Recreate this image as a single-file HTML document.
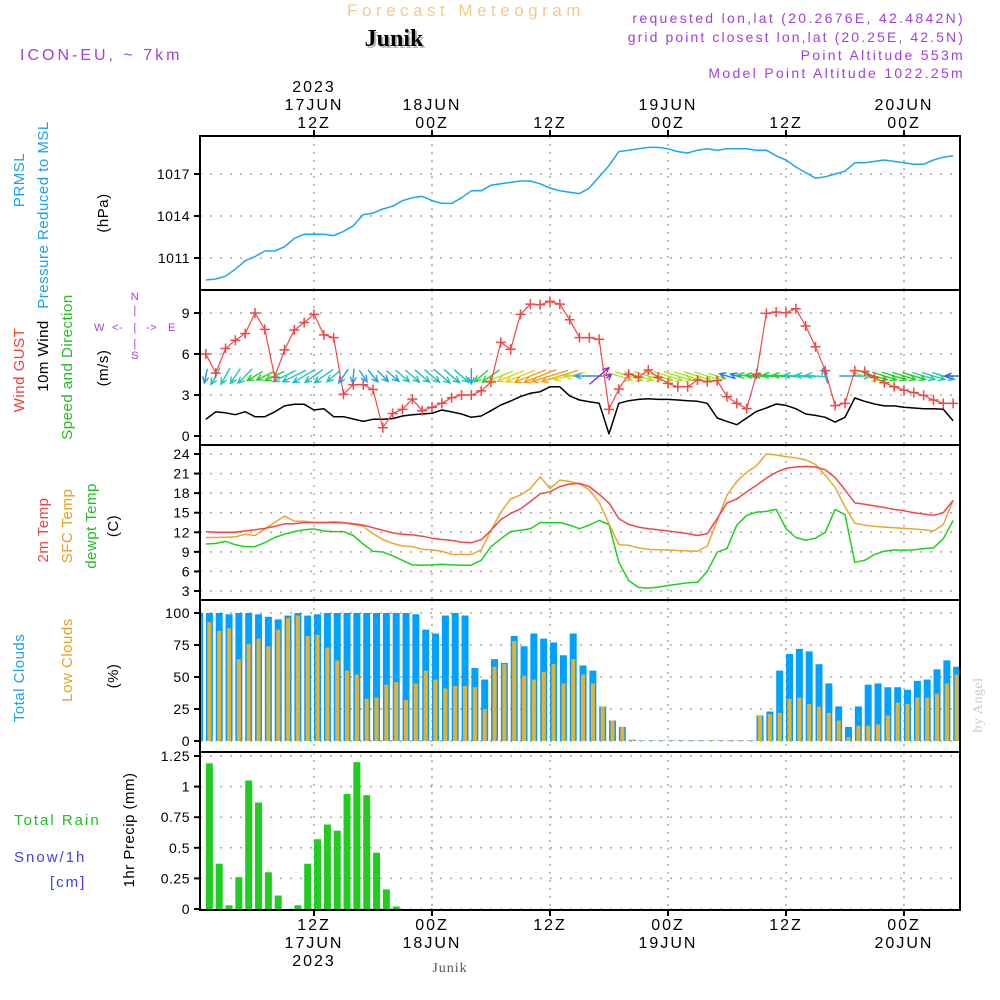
<!DOCTYPE html>
<html><head><meta charset="utf-8"><title>Forecast Meteogram Junik</title>
<style>
html,body{margin:0;padding:0;background:#fff;}
svg{display:block;font-family:"Liberation Sans",sans-serif;}
</style></head>
<body>
<svg id="chart" width="1000" height="1000" viewBox="0 0 1000 1000" xmlns="http://www.w3.org/2000/svg">
<defs><clipPath id="plotclip"><rect x="200" y="136" width="760" height="774"/></clipPath></defs>
<g>
<text x="466" y="16" text-anchor="middle" fill="#f5c890" font-size="17" letter-spacing="4.5">Forecast Meteogram</text>
<text x="396" y="48" text-anchor="middle" font-family="Liberation Serif,serif" font-weight="bold" font-size="24" fill="#bbb">Junik</text>
<text x="394" y="46" text-anchor="middle" font-family="Liberation Serif,serif" font-weight="bold" font-size="24" fill="#000">Junik</text>
<text x="20" y="60" fill="#a040e0" font-size="16" letter-spacing="3">ICON-EU, ~ 7km</text>
<text x="965" y="23" text-anchor="end" fill="#a040e0" font-size="14" letter-spacing="2.3">requested lon,lat (20.2676E, 42.4842N)</text>
<text x="965" y="42" text-anchor="end" fill="#a040e0" font-size="14" letter-spacing="2.1">grid point closest lon,lat (20.25E, 42.5N)</text>
<text x="965" y="60" text-anchor="end" fill="#a040e0" font-size="14" letter-spacing="2.3">Point Altitude 553m</text>
<text x="965" y="78" text-anchor="end" fill="#a040e0" font-size="14" letter-spacing="2.3">Model Point Altitude 1022.25m</text>
</g>
<g id="grid"></g>
<g id="marks" clip-path="url(#plotclip)"></g>
<g id="axes"></g>
<g font-size="15" letter-spacing="0.5">
<text transform="translate(24,180) rotate(-90)" text-anchor="middle" fill="#1ba0f0">PRMSL</text>
<text transform="translate(48,215) rotate(-90)" text-anchor="middle" fill="#1ba0f0">Pressure Reduced to MSL</text>
<text transform="translate(108,213) rotate(-90)" text-anchor="middle" fill="#000">(hPa)</text>
<text transform="translate(24,370) rotate(-90)" text-anchor="middle" fill="#f04040">Wind GUST</text>
<text transform="translate(48,356) rotate(-90)" text-anchor="middle" fill="#000">10m Wind</text>
<text transform="translate(72,367) rotate(-90)" text-anchor="middle" fill="#20c020">Speed and Direction</text>
<text transform="translate(108,368) rotate(-90)" text-anchor="middle" fill="#000">(m/s)</text>
<text transform="translate(48,530) rotate(-90)" text-anchor="middle" fill="#f04040">2m Temp</text>
<text transform="translate(72,526) rotate(-90)" text-anchor="middle" fill="#e8a020">SFC Temp</text>
<text transform="translate(96,526) rotate(-90)" text-anchor="middle" fill="#20c020">dewpt Temp</text>
<text transform="translate(118,526) rotate(-90)" text-anchor="middle" fill="#000">(C)</text>
<text transform="translate(24,678) rotate(-90)" text-anchor="middle" fill="#1ba0f0">Total Clouds</text>
<text transform="translate(72,660) rotate(-90)" text-anchor="middle" fill="#e8a020">Low Clouds</text>
<text transform="translate(118,676) rotate(-90)" text-anchor="middle" fill="#000">(%)</text>
<text transform="translate(134,830) rotate(-90)" text-anchor="middle" fill="#000">1hr Precip (mm)</text>
<text x="14" y="825" fill="#20c020" letter-spacing="2">Total  Rain</text>
<text x="14" y="862" fill="#4040f0" letter-spacing="2">Snow/1h</text>
<text x="50" y="887" fill="#4040f0" letter-spacing="2">[cm]</text>
<g fill="#a040e0" font-size="11">
<text x="135" y="300" text-anchor="middle">N</text>
<text x="135" y="314" text-anchor="middle">|</text>
<text x="94" y="331">W</text>
<text x="112" y="331">&lt;-</text>
<text x="135" y="331" text-anchor="middle">|</text>
<text x="146" y="331">-&gt;</text>
<text x="168" y="331">E</text>
<text x="135" y="347" text-anchor="middle">|</text>
<text x="135" y="359" text-anchor="middle">S</text>
</g>
<text transform="translate(982,705) rotate(-90)" text-anchor="middle" font-family="Liberation Serif,serif" fill="#ccc" font-size="14">by Angel</text>
<text x="450" y="972" text-anchor="middle" font-family="Liberation Serif,serif" fill="#555" font-size="14" letter-spacing="1">Junik</text>
</g>
</svg>
<script>
// ===== data (hourly, index 0 = 17JUN 01Z) =====
const pressure = [1009.43,1009.5,1009.7,1010.2,1010.8,1011.1,1011.5,1011.5,1011.8,1012.4,1012.7,1012.7,1012.7,1012.6,1012.9,1013.3,1014.1,1014.2,1014.5,1014.7,1015.1,1015.3,1015.4,1015.1,1014.9,1014.9,1015.3,1015.8,1015.8,1016.2,1016.3,1016.4,1016.5,1016.5,1016.3,1016.0,1015.8,1015.7,1015.6,1016.0,1016.8,1017.6,1018.6,1018.7,1018.8,1018.9,1018.9,1018.8,1018.6,1018.5,1018.7,1018.8,1018.7,1018.8,1018.8,1018.8,1018.7,1018.7,1018.3,1018.0,1017.5,1017.1,1016.7,1016.8,1017.0,1017.2,1017.8,1017.8,1017.9,1018.0,1017.9,1017.8,1017.7,1017.7,1018.0,1018.2,1018.3];
const gust = [6.0,4.6,6.4,7.0,7.5,9.0,7.8,4.3,6.3,7.75,8.3,8.9,7.4,7.2,3.05,3.75,3.75,3.4,0.6,1.65,1.95,2.7,1.85,2.1,2.4,2.8,3.0,3.0,3.3,3.95,6.85,6.35,8.9,9.65,9.6,9.85,9.65,8.5,7.2,7.2,7.07,1.95,3.43,4.53,4.3,4.83,4.3,3.85,3.6,3.6,4.1,3.97,4.05,2.88,2.39,2.0,4.53,8.97,9.07,9.02,9.31,8.05,6.53,4.78,2.22,2.39,4.78,4.73,4.3,3.9,3.6,3.36,3.17,2.97,2.63,2.39,2.39];
const wind10m = [1.22,1.76,1.7,1.56,1.78,1.41,1.41,1.76,2.2,2.32,2.32,1.9,2.0,1.41,1.41,1.24,1.07,1.22,1.22,1.27,1.46,1.56,1.61,1.66,1.9,1.76,1.61,1.37,1.46,1.85,2.27,2.56,2.88,3.12,3.24,3.6,3.6,2.93,2.63,2.51,2.39,0.15,2.39,2.58,2.68,2.73,2.68,2.68,2.63,2.58,2.54,2.39,1.32,1.07,0.83,1.32,1.8,2.05,2.34,2.24,2.0,1.61,1.51,1.37,1.02,1.37,2.78,2.54,2.34,2.2,2.2,2.1,2.05,2.0,2.0,1.95,1.12];
// wind arrow direction (screen degrees the arrow points to: 0=east, 90=south, 180=west)
const windDir = [100,115,115,120,130,145,150,150,150,150,145,140,140,135,120,95,60,55,50,45,45,45,45,45,45,45,45,90,135,140,155,155,155,155,155,160,160,165,180,180,-45,-45,20,20,20,20,20,20,20,20,20,20,20,200,200,190,185,185,185,185,185,185,185,255,0,0,0,20,20,20,20,20,20,20,20,20,180];
const windColor = ["#1e9be8","#20c8b0","#20c8b0","#20c8b0","#20c8b0","#20d020","#20d020","#20d020","#20c0c0","#20c0c0","#20c0c0","#20c0c0","#20c0c0","#20c0c0","#20a0f0","#20a0f0","#20a0f0","#20a0f0","#20a0f0","#20a0f0","#20c0b0","#20c0b0","#20c0b0","#20c0b0","#20c0b0","#20c0b0","#20c0b0","#20a0f0","#20d040","#20d040","#a8e030","#e0d020","#e0d020","#f0a020","#f0a020","#f0a020","#f0a020","#e0d020","#a8e030","#20a0f0","#a020e0","#a020e0","#a8e030","#a8e030","#a8e030","#a8e030","#a8e030","#a8e030","#a8e030","#a8e030","#a8e030","#a8e030","#a8e030","#2080f0","#2080f0","#20d040","#20d040","#20d040","#20d040","#20d040","#20c8c8","#20c8c8","#20c8c8","#20a0f0","none","none","#20a0f0","#a8e030","#20d020","#20d020","#20d020","#20d020","#20d020","#20c8a0","#20c8a0","#20c8a0","#3060f0"];
const temp2m = [12.1,12.0,12.0,12.0,12.2,12.4,12.6,12.9,13.3,13.3,13.5,13.5,13.5,13.5,13.45,13.3,13.1,12.7,12.3,11.9,11.7,11.6,11.4,11.1,10.9,10.75,10.5,10.4,10.85,12.3,13.95,14.9,15.6,16.7,17.9,18.2,19.0,19.4,19.5,19.0,17.8,16.5,14.1,13.2,12.8,12.55,12.4,12.2,12.0,11.8,11.5,11.8,14.1,16.5,17.1,18.2,19.2,20.3,21.2,21.8,22.0,22.1,22.0,21.6,20.4,18.5,16.5,16.3,16.05,15.8,15.5,15.3,15.0,14.8,14.6,15.0,16.9];
const tempSfc = [11.2,11.2,11.25,11.3,11.7,11.5,12.5,13.5,14.5,13.7,13.7,13.5,13.5,13.6,13.5,13.2,12.9,11.8,10.9,10.3,9.9,9.8,9.4,9.3,9.1,8.6,8.6,8.6,9.3,12.3,15.1,17.1,17.7,18.7,20.5,18.7,20.0,19.8,19.4,18.5,16.6,13.3,10.1,10.0,9.6,9.4,9.3,9.3,9.2,9.15,9.1,9.9,13.8,17.7,19.8,21.2,22.2,24.0,23.85,23.6,23.4,23.1,22.4,20.75,18.9,15.9,13.4,13.1,12.9,12.8,12.7,12.6,12.5,12.4,12.2,13.2,16.9];
const dewpt = [10.2,10.3,10.6,10.1,9.8,9.8,10.4,11.2,11.7,12.1,12.4,12.5,12.2,12.1,12.1,11.5,10.2,9.1,9.0,8.4,7.7,7.0,6.95,7.0,7.1,7.0,6.95,6.95,7.7,9.8,11.0,12.1,12.3,12.55,13.5,13.45,13.5,13.1,12.55,13.1,13.8,13.2,7.4,4.6,3.55,3.45,3.6,3.85,4.05,4.25,4.35,6.0,8.95,9.5,13.1,14.6,15.1,15.2,15.5,12.55,11.2,10.8,11.1,12.0,15.5,14.7,7.4,7.7,8.6,9.1,9.3,9.25,9.3,9.5,9.6,11.0,13.8];
const totalClouds = [100,100,100,99,100,100,99,97,95,98,100,98,99,100,100,100,100,100,100,100,100,100,99,87,84,98,100,98,57,48,64,61,82,74,84,80,77,67,84,59,55,27,16,11,1,0.5,0.5,0.5,0.5,0.5,0.5,0.5,0.5,0.5,0.5,0.5,0.5,20,23,55,68,72,70,60,45,27,11,27,44,45,42,42,40,47,48,56,63,58];
const lowClouds = [97,93,86,88,64,76,80,74,87,96,98,82,83,73,63,55,52,33,34,44,46,32,45,55,48,41,43,43,42,25,58,60,78,51,48,54,60,45,64,52,45,27,16,11,1,0.5,0.5,0.5,0.5,0.5,0.5,0.5,0.5,0.5,0.5,0.5,0.5,20,21,22,33,34,29,27,22,16,3,12,12,13,20,30,29,34,34,37,45,52];
const precip = [1.19,0.37,0.03,0.26,1.05,0.87,0.30,0.11,0,0.03,0.37,0.57,0.69,0.64,0.94,1.20,0.93,0.46,0.16,0.02,0,0,0,0,0,0,0,0,0,0,0,0,0,0,0,0,0,0,0,0,0,0,0,0,0,0,0,0,0,0,0,0,0,0,0,0,0,0,0,0,0,0,0,0,0,0,0,0,0,0,0,0,0,0,0,0,0];
const pressureTicks = [1011,1014,1017];
const windTicks = [0,3,6,9];
const tempTicks = [3,6,9,12,15,18,21,24];
const cloudTicks = [0,25,50,75,100];
const precipTicks = [0,0.25,0.5,0.75,1,1.25];
const timeTickHours = [12,24,36,48,60,72];
const timeTopLabels = [["2023","17JUN","12Z"],["","18JUN","00Z"],["","","12Z"],["","19JUN","00Z"],["","","12Z"],["","20JUN","00Z"]];
const timeBottomLabels = [["12Z","17JUN","2023"],["00Z","18JUN",""],["12Z","",""],["00Z","19JUN",""],["12Z","",""],["00Z","20JUN",""]];

// ===== scales =====
const X0 = 200, X1 = 960;
const xH = h => 314 + (h - 12) * 9.833;
const xI = i => xH(i + 1);
const xB = i => xH(i + 0.36);
const xR = i => xH(i + 1.36);
const yP = v => 174 - (v - 1017) * 14;
const yW = v => 436 - v * 13.67;
const yT = v => 591 - (v - 3) * 6.524;
const yC = v => 741 - v * 1.28;
const yR = v => 909 - v * 122.4;
const panels = [[136,290],[290,445],[445,600],[600,752],[752,910]];

const NS = "http://www.w3.org/2000/svg";
function mk(tag, attrs, parent) {
  const e = document.createElementNS(NS, tag);
  for (const k in attrs) e.setAttribute(k, attrs[k]);
  parent.appendChild(e);
  return e;
}
const grid = document.getElementById('grid');
const marks = document.getElementById('marks');
const axes = document.getElementById('axes');

panels.forEach(([a,b]) => {
  timeTickHours.forEach(h => {
    const l = mk('line', {x1:xH(h), x2:xH(h), y1:a, y2:b, stroke:'#aaa', 'stroke-width':1.5, 'stroke-dasharray':'2 6'}, grid);
    
    
  });
});
function hgrid(ticks, yf, scale) {
  ticks.forEach(t => {
    const l = mk('line', {x1:X0, x2:X1, y1:yf(t), y2:yf(t), stroke:'#aaa', 'stroke-width':1.5, 'stroke-dasharray':'2 8'}, grid);
    
    
    const tk = mk('line', {x1:X0-6, x2:X0, y1:yf(t), y2:yf(t), stroke:'#000', 'stroke-width':2}, axes);
    
    
    const tx = mk('text', {x:X0-10, y:yf(t)+5, 'text-anchor':'end', 'font-size':14, fill:'#000', 'letter-spacing':0.5}, axes);
    tx.textContent = String(t);
    
    
  });
}
hgrid(pressureTicks, yP, 'pressure');
hgrid(windTicks, yW, 'wind');
hgrid(tempTicks, yT, 'temp');
hgrid(cloudTicks, yC, 'cloud');
hgrid(precipTicks, yR, 'precip');

panels.forEach(([a,b]) => {
  const r = mk('rect', {x:X0, y:a, width:X1-X0, height:b-a, fill:'none', stroke:'#000', 'stroke-width':2}, axes);
  
  
});
timeTickHours.forEach((h, k) => {
  const t1 = mk('line', {x1:xH(h), x2:xH(h), y1:130, y2:137, stroke:'#000', 'stroke-width':2}, axes);
  
  
  const t2 = mk('line', {x1:xH(h), x2:xH(h), y1:909, y2:916, stroke:'#000', 'stroke-width':2}, axes);
  
  
  timeTopLabels[k].forEach((s, j) => {
    if (!s) return;
    const t = mk('text', {x:xH(h), y:92 + j*18, 'text-anchor':'middle', 'font-size':16, fill:'#000', 'letter-spacing':2}, axes);
    t.textContent = s;
    
    
  });
  timeBottomLabels[k].forEach((s, j) => {
    if (!s) return;
    const t = mk('text', {x:xH(h), y:930 + j*18, 'text-anchor':'middle', 'font-size':16, fill:'#000', 'letter-spacing':2}, axes);
    t.textContent = s;
    
    
  });
});

function line(arr, yf, color, name, w) {
  const d = arr.map((v,i) => (i?'L':'M') + xI(i).toFixed(1) + ' ' + yf(v).toFixed(1)).join(' ');
  const p = mk('path', {d, fill:'none', stroke:color, 'stroke-width':w||1.5, 'stroke-linejoin':'round'}, marks);
  
  
}
line(pressure, yP, '#1ba6f5', 'pressure-line');

totalClouds.forEach((v,i) => {
  const r = mk('rect', {x:xB(i)-3.5, y:yC(v), width:7, height:741-yC(v), fill:'#00a0ff'}, marks);
  
  
});
lowClouds.forEach((v,i) => {
  const r = mk('rect', {x:xB(i)-2, y:yC(v), width:4, height:741-yC(v), fill:'#e8b030'}, marks);
  
  
});
precip.forEach((v,i) => {
  if (v <= 0) return;
  const r = mk('rect', {x:xR(i)-3.5, y:yR(v), width:7, height:909-yR(v), fill:'#20cc20'}, marks);
  
  
});

line(dewpt, yT, '#20d020', 'dewpoint-line');
line(tempSfc, yT, '#e8a830', 'sfc-temp-line');
line(temp2m, yT, '#f04848', '2m-temp-line');

windDir.forEach((a,i) => {
  const c = windColor[i];
  if (c === 'none') return;
  const L = 6 + wind10m[i] * 9;
  const rad = a * Math.PI / 180;
  const dx = Math.cos(rad) * L, dy = Math.sin(rad) * L * 0.85;
  const cx = xI(i), cy = 376;
  const x1 = cx - dx/2, y1 = cy - dy/2, x2 = cx + dx/2, y2 = cy + dy/2;
  const ang = Math.atan2(y2-y1, x2-x1);
  const hl = 7;
  const hx1 = x2 - hl*Math.cos(ang-0.45), hy1 = y2 - hl*Math.sin(ang-0.45);
  const hx2 = x2 - hl*Math.cos(ang+0.45), hy2 = y2 - hl*Math.sin(ang+0.45);
  const p = mk('path', {d:`M${x1} ${y1} L${x2} ${y2} M${hx1} ${hy1} L${x2} ${y2} L${hx2} ${hy2}`, fill:'none', stroke:c, 'stroke-width':1.4}, marks);
  
  
});
line(wind10m, yW, '#000', 'wind-speed-line');
line(gust, yW, '#f04848', 'gust-line', 1.2);
gust.forEach((v,i) => {
  const x = xI(i), y = yW(v);
  const p = mk('path', {d:`M${x-5} ${y} L${x+5} ${y} M${x} ${y-5} L${x} ${y+5}`, stroke:'#f04848', 'stroke-width':1.5}, marks);
  
  
});
</script>
</body></html>
